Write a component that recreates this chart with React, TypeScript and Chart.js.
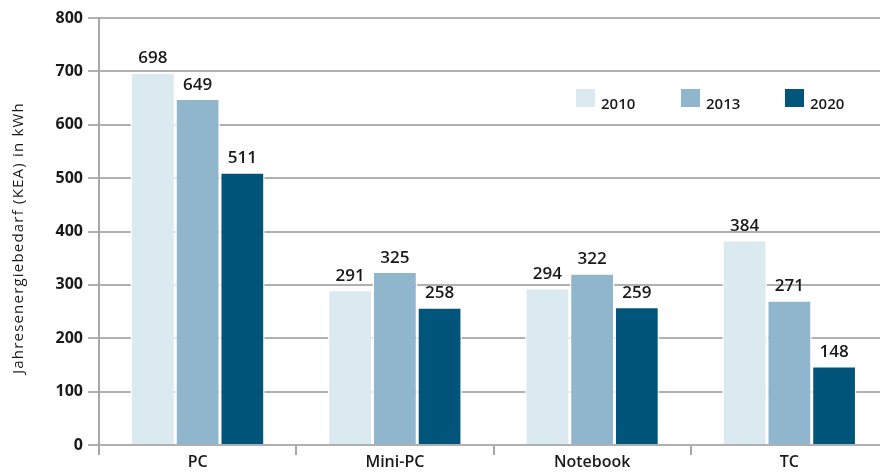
import React, { useEffect, useRef } from "react";
import { Chart, registerables } from "chart.js";

Chart.register(...registerables);

const categories = ["PC", "Mini-PC", "Notebook", "TC"];
const seriesLabels = ["2010", "2013", "2020"];
const values2010 = [698, 291, 294, 384];
const values2013 = [649, 325, 322, 271];
const values2020 = [511, 258, 259, 148];
const seriesColors = ["#dbe9f0", "#8fb6cd", "#02557a"];
const yTicks = [0, 100, 200, 300, 400, 500, 600, 700, 800];
const yTitle = "Jahresenergiebedarf (KEA) in kWh";

const FONT = "'Open Sans', 'DejaVu Sans', sans-serif";
const TEXT = "#1a1a1a";

const overlayPlugin = {
  id: "overlay",
  afterDatasetsDraw(chart: any) {
    const ctx = chart.ctx;
    ctx.save();
    // value labels
    ctx.font = `600 17px ${FONT}`;
    ctx.fillStyle = TEXT;
    ctx.textAlign = "center";
    ctx.textBaseline = "alphabetic";
    chart.data.datasets.forEach((ds: any, di: number) => {
      const meta = chart.getDatasetMeta(di);
      meta.data.forEach((el: any, i: number) => {
        ctx.fillText(String(ds.data[i]), el.x, el.y - 9);
      });
    });
    // legend
    const legendX = [576, 681, 785];
    chart.data.datasets.forEach((ds: any, di: number) => {
      const x = legendX[di];
      ctx.fillStyle = ds.backgroundColor;
      ctx.fillRect(x, 89, 19, 18);
      ctx.fillStyle = TEXT;
      ctx.textAlign = "left";
      ctx.font = `600 15px ${FONT}`;
      ctx.fillText(ds.label, x + 25, 109);
    });
    // y title
    ctx.translate(19, 238);
    ctx.rotate(-Math.PI / 2);
    ctx.textAlign = "center";
    ctx.textBaseline = "middle";
    ctx.font = `500 15px ${FONT}`;
    try {
      (ctx as any).letterSpacing = "1.2px";
    } catch (e) {}
    ctx.fillStyle = TEXT;
    ctx.fillText(yTitle, 0, 0);
    ctx.restore();
  },
};

export default function App() {
  const ref = useRef<HTMLCanvasElement>(null);
  useEffect(() => {
    document.body.style.margin = "0";
    const chart = new Chart(ref.current!, {
      type: "bar",
      data: {
        labels: categories,
        datasets: [values2010, values2013, values2020].map((d, i) => ({
          label: seriesLabels[i],
          data: d,
          backgroundColor: seriesColors[i],
          borderColor: "#ffffff",
          borderWidth: 1.5,
          categoryPercentage: 0.68,
          barPercentage: 1,
        })),
      },
      options: {
        responsive: false,
        animation: false,
        layout: { padding: { top: 18, left: 0, right: 0, bottom: 0 } },
        plugins: {
          legend: { display: false },
          tooltip: { enabled: false },
        },
        scales: {
          x: {
            grid: {
              drawOnChartArea: false,
              drawTicks: true,
              tickLength: 10,
              color: "#a8a8a8",
              lineWidth: 2,
              offset: true,
            },
            border: { display: false },
            ticks: {
              color: TEXT,
              font: { family: FONT, size: 16, weight: 600 },
              padding: -2,
            },
            afterFit(scale: any) {
              scale.height = 29;
            },
          },
          y: {
            min: 0,
            max: 800,
            afterBuildTicks(scale: any) {
              scale.ticks = yTicks.map((v) => ({ value: v }));
            },
            grid: {
              color: "#b0b0b0",
              lineWidth: 2,
              tickLength: 11,
            },
            border: { display: true, color: "#a8a8a8", width: 2 },
            ticks: {
              color: TEXT,
              font: { family: FONT, size: 16, weight: 700 },
              padding: 5,
            },
            afterFit(scale: any) {
              scale.width = 99;
            },
          },
        },
      },
      plugins: [overlayPlugin],
    });
    return () => chart.destroy();
  }, []);
  return (
    <div style={{ width: 880, height: 474, overflow: "hidden", position: "relative" }}>
      <canvas ref={ref} width={888} height={474} style={{ display: "block" }} />
    </div>
  );
}
